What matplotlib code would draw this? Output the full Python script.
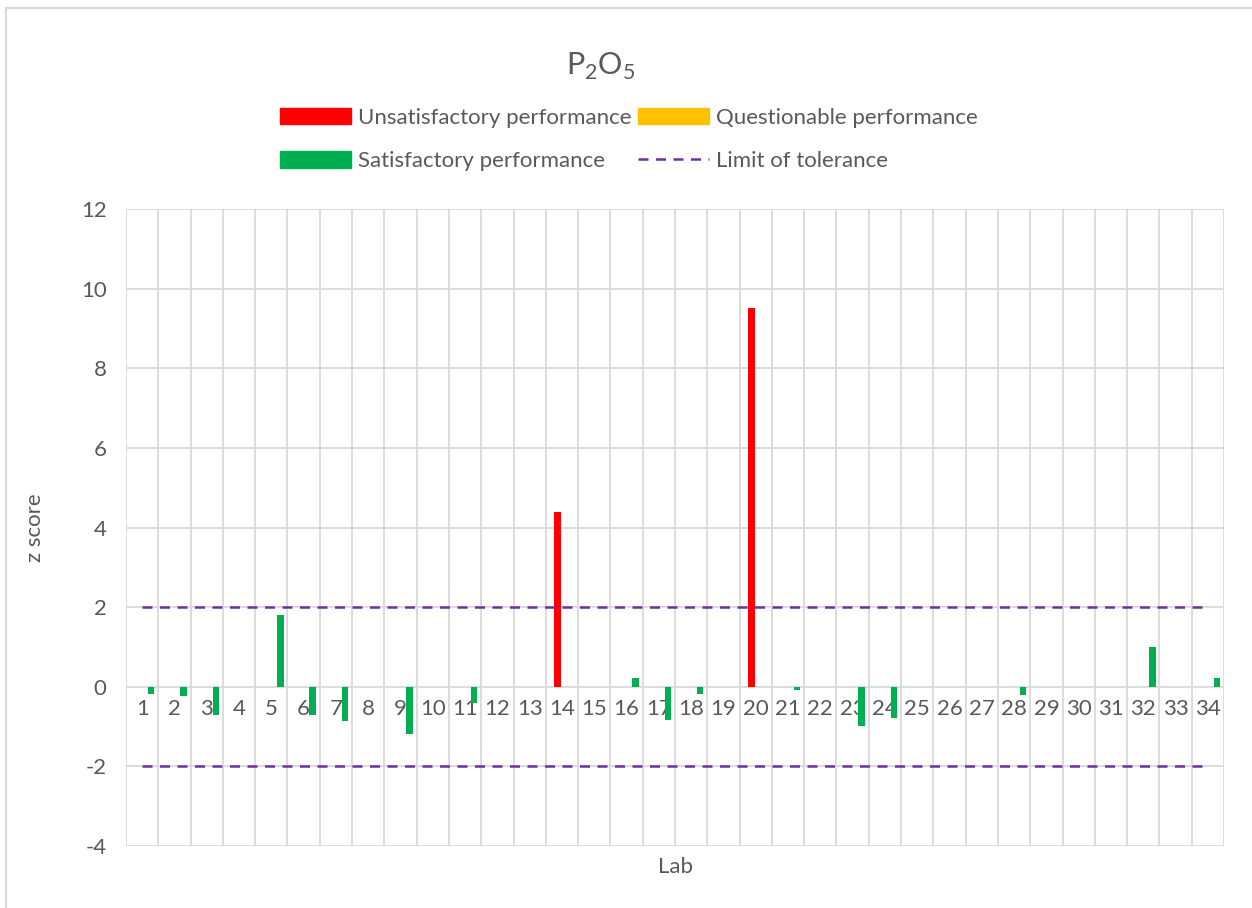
import numpy as np
import matplotlib
matplotlib.use("Agg")
import matplotlib.pyplot as plt
from matplotlib.patches import Patch
from matplotlib.lines import Line2D

# data
labs = [str(i) for i in range(1, 35)]
z_scores = [-0.18, -0.24, -0.71, np.nan, 1.80, -0.72, -0.85, np.nan, -1.19, np.nan,
            -0.40, np.nan, np.nan, 4.40, np.nan, 0.22, -0.83, -0.18, np.nan, 9.52,
            -0.08, np.nan, -0.98, -0.79, np.nan, np.nan, np.nan, -0.20, np.nan, np.nan,
            np.nan, 1.00, np.nan, 0.21]
limit = 2
y_ticks = [-4, -2, 0, 2, 4, 6, 8, 10, 12]

z = np.array(z_scores, dtype=float)
x = np.arange(1, len(labs) + 1)
unsat = np.where(np.abs(z) >= 3, z, np.nan)
quest = np.where((np.abs(z) > 2) & (np.abs(z) < 3), z, np.nan)
sat = np.where(np.abs(z) <= 2, z, np.nan)

plt.rcParams['font.family'] = ['Lato', 'DejaVu Sans']
plt.rcParams['mathtext.fontset'] = 'custom'
plt.rcParams['mathtext.rm'] = 'Lato'
plt.rcParams['axes.unicode_minus'] = False
txt = '#595959'
grid = '#d9d9d9'
fs = 16
dash = (0, (4, 3.0))

fig = plt.figure(figsize=(12.52, 9.08), dpi=100)
ax = fig.add_axes([126 / 1252, 1 - 846 / 908, 1098 / 1252, 637 / 908])

w = 0.2
ax.bar(x - 0.135, unsat, width=w, color='#ff0000', zorder=3)
ax.bar(x + 0.07, quest, width=w, color='#ffc000', zorder=3)
ax.bar(x + 0.28, sat, width=w, color='#00b050', zorder=3)
ax.plot(x, np.full(len(x), limit), color='#7030a0', lw=1.8, ls=dash, zorder=4)
ax.plot(x, np.full(len(x), -limit), color='#7030a0', lw=1.8, ls=dash, zorder=4)

ax.set_xlim(0.5, len(labs) + 0.5)
ax.set_ylim(-4, 12)
ax.set_yticks(y_ticks)
ax.set_xticks(x)
ax.set_xticklabels(labs)
ax.set_xticks(np.arange(0.5, len(labs) + 1), minor=True)
ax.grid(True, which='minor', axis='x', color=grid, lw=1.3, zorder=0)
ax.grid(True, which='major', axis='y', color=grid, lw=1.3, zorder=0)
for s in ax.spines.values():
    s.set_visible(False)
ax.spines['bottom'].set_position(('data', 0))
ax.tick_params(axis='x', which='both', length=0, pad=9, labelsize=fs, colors=txt)
ax.tick_params(axis='y', length=0, pad=14, labelsize=fs, colors=txt)

ax.set_ylabel('z score', fontsize=fs, color=txt, labelpad=26)
ax.text(0.5, -0.033, 'Lab', transform=ax.transAxes, ha='center', va='center',
        fontsize=fs, color=txt)

fig.text(601 / 1252, 1 - 66 / 908, r'P$_2$O$_5$', ha='center', va='center',
         fontsize=22, color=txt)

handles = [Patch(color='#ff0000'), Patch(color='#00b050'), Patch(color='#ffc000'),
           Line2D([], [], color='#7030a0', lw=1.8, ls=dash)]
names = ['Unsatisfactory performance', 'Satisfactory performance',
         'Questionable performance', 'Limit of tolerance']
fig.legend(handles, names, ncol=2, loc='upper left', bbox_to_anchor=(280 / 1252, 1 - 108 / 908),
           frameon=False, borderpad=0, borderaxespad=0, fontsize=fs, handlelength=3.2,
           handleheight=0.75, handletextpad=0.3, columnspacing=0.3, labelspacing=1.05,
           labelcolor=txt)

# chart border
fig.add_artist(Line2D([6 / 1252, 6 / 1252], [0, 1 - 8 / 908], color=grid, lw=1.5))
fig.add_artist(Line2D([6 / 1252, 1], [1 - 8 / 908, 1 - 8 / 908], color=grid, lw=1.5))

fig.savefig('out.png', dpi=100)
